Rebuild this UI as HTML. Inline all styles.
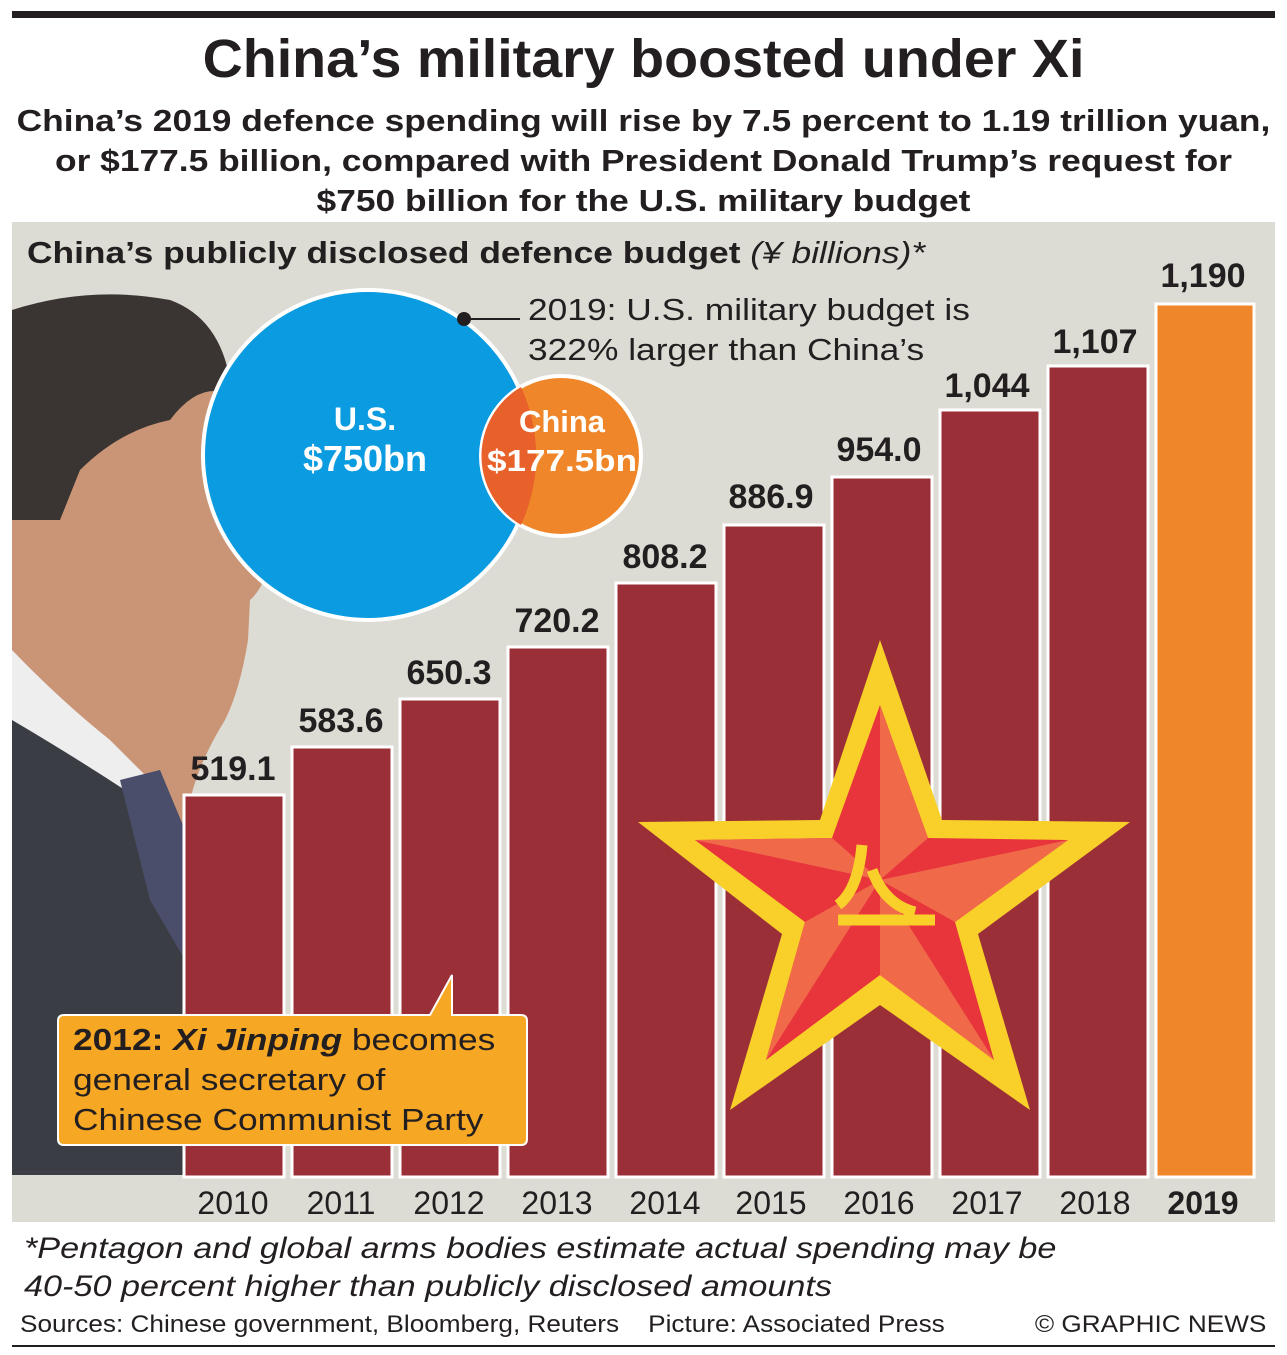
<!DOCTYPE html>
<html><head><meta charset="utf-8"><style>
body{margin:0;width:1287px;height:1355px;background:#fff;font-family:"Liberation Sans",sans-serif;color:#231f20;position:relative;overflow:hidden}
.a{position:absolute;white-space:nowrap}
.s{transform:scaleX(1.14);transform-origin:left top}
.c{transform:scaleX(1.14);transform-origin:center top}
</style></head><body>
<div class="a" style="left:12px;top:11px;width:1263px;height:7px;background:#231f20"></div>
<div class="a" style="left:0;width:1287px;top:28px;text-align:center;font-weight:bold;font-size:54px;transform:scaleX(1.03);transform-origin:center top">China’s military boosted under Xi</div>
<div class="a c" style="left:0;width:1287px;top:101px;text-align:center;font-weight:bold;font-size:31px;line-height:40px">China’s 2019 defence spending will rise by 7.5 percent to 1.19 trillion yuan,<br>or $177.5 billion, compared with President Donald Trump’s request for<br>$750 billion for the U.S. military budget</div>
<svg class="a" style="left:0;top:0" width="1287" height="1355">
<rect x="12" y="222" width="1263" height="1000" fill="#dddcd4"/>
<path d="M12 310 Q80 290 170 300 Q220 320 232 390 L240 470 Q262 520 272 560 Q262 590 250 600 L248 640 Q240 690 225 720 Q200 760 190 800 L185 1175 L12 1175Z" fill="#c99576"/>
<path d="M12 310 Q90 285 170 300 Q225 320 232 395 Q200 380 170 420 Q120 430 80 470 L60 520 L12 520Z" fill="#3a3433"/>
<path d="M12 650 Q60 700 110 740 L150 780 L185 840 L185 1175 L12 1175Z" fill="#eeeeee"/>
<path d="M12 720 Q80 760 140 800 L185 880 L185 1175 L12 1175Z" fill="#3b3d44"/>
<path d="M120 780 L160 770 L185 830 L185 960 L150 900Z" fill="#4a4e6a"/>
<g fill="#9b2f37" stroke="#fff" stroke-width="3">
<rect x="184" y="795" width="100" height="382"/>
<rect x="292" y="747" width="100" height="430"/>
<rect x="400" y="699" width="100" height="478"/>
<rect x="508" y="647" width="100" height="530"/>
<rect x="616" y="583" width="100" height="594"/>
<rect x="724" y="525" width="100" height="652"/>
<rect x="832" y="477" width="100" height="700"/>
<rect x="940" y="410" width="100" height="767"/>
<rect x="1048" y="366" width="100" height="811"/>
<rect x="1156" y="304" width="98" height="873" fill="#f0862a"/>
</g>
<g font-weight="bold" font-size="34" text-anchor="middle" fill="#231f20">
<text x="233" y="780">519.1</text><text x="341" y="732">583.6</text><text x="449" y="684">650.3</text>
<text x="557" y="632">720.2</text><text x="665" y="568">808.2</text><text x="771" y="508">886.9</text>
<text x="879" y="461">954.0</text><text x="987" y="397">1,044</text><text x="1095" y="353">1,107</text>
<text x="1203" y="287">1,190</text></g>
<g font-size="32" text-anchor="middle" fill="#231f20">
<text x="233" y="1214">2010</text><text x="341" y="1214">2011</text><text x="449" y="1214">2012</text>
<text x="557" y="1214">2013</text><text x="665" y="1214">2014</text><text x="771" y="1214">2015</text>
<text x="879" y="1214">2016</text><text x="987" y="1214">2017</text><text x="1095" y="1214">2018</text>
<text x="1203" y="1214" font-weight="bold">2019</text></g>
<polygon points="880,640 942,820 1130,822 978,934 1030,1110 880,1005 730,1110 782,934 638,822 820,820" fill="#f9cf2a"/>
<polygon points="880,705 928,838 1068,840 955,922 994,1060 880,975 766,1060 805,922 695,840 832,838" fill="#e8353b"/>
<polygon points="880,705 880,880 928,838" fill="#f06a4a"/>
<polygon points="1068,840 880,880 955,922" fill="#f06a4a"/>
<polygon points="994,1060 880,880 880,975" fill="#f06a4a"/>
<polygon points="766,1060 880,880 805,922" fill="#f06a4a"/>
<polygon points="695,840 880,880 832,838" fill="#f06a4a"/>
<g stroke="#f9cf2a" stroke-width="11" fill="none"><path d="M862 845 Q858 890 838 905"/><path d="M872 870 Q885 905 915 912"/><path d="M838 920 L935 920"/></g>
<circle cx="368" cy="455" r="165" fill="#0a9be0" stroke="#fff" stroke-width="4"/>
<circle cx="561" cy="456" r="80" fill="#f0862a" stroke="#fff" stroke-width="4"/>
<path d="M521 387 A165 165 0 0 1 521 525 A80 80 0 0 1 521 387Z" fill="#e8612a"/>
<g font-weight="bold" fill="#fff" text-anchor="middle"><text x="365" y="430" font-size="32">U.S.</text><text x="365" y="471" font-size="36">$750bn</text>
<text x="562" y="432" font-size="31">China</text><text x="562" y="471" font-size="31" textLength="150" lengthAdjust="spacingAndGlyphs">$177.5bn</text></g>
<circle cx="464" cy="319" r="7" fill="#231f20"/><line x1="464" y1="319" x2="520" y2="319" stroke="#231f20" stroke-width="2"/>
<path d="M64 1015 L430 1015 L452 975 L452 1015 L521 1015 Q527 1015 527 1021 L527 1139 Q527 1145 521 1145 L64 1145 Q58 1145 58 1139 L58 1021 Q58 1015 64 1015Z" fill="#f6a723" stroke="#fff" stroke-width="2"/>
<line x1="12" y1="1346" x2="1275" y2="1346" stroke="#231f20" stroke-width="2"/>
</svg>
<div class="a s" style="left:27px;top:235px;font-size:31px;font-weight:bold">China’s publicly disclosed defence budget <span style="font-weight:normal;font-style:italic">(¥ billions)*</span></div>
<div class="a s" style="left:528px;top:290px;font-size:31px;line-height:40px">2019: U.S. military budget is<br>322% larger than China’s</div>
<div class="a s" style="left:73px;top:1020px;font-size:31px;line-height:40px"><b>2012: <i>Xi Jinping</i></b> becomes<br>general secretary of<br>Chinese Communist Party</div>
<div class="a s" style="left:24px;top:1230px;font-size:30px;line-height:38px;font-style:italic">*Pentagon and global arms bodies estimate actual spending may be<br>40-50 percent higher than publicly disclosed amounts</div>
<div class="a" style="left:20px;top:1311px;font-size:24px;transform:scaleX(1.09);transform-origin:left top">Sources: Chinese government, Bloomberg, Reuters &nbsp;&nbsp;&nbsp;Picture: Associated Press</div>
<div class="a" style="right:21px;top:1311px;font-size:24px;transform:scaleX(1.09);transform-origin:right top">© GRAPHIC NEWS</div>
</body></html>
